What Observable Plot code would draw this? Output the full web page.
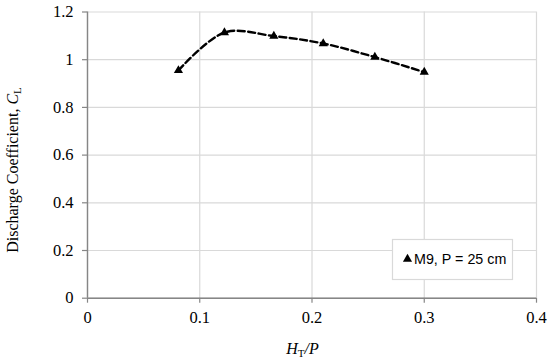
<!DOCTYPE html>
<html>
<head>
<meta charset="utf-8">
<script src="https://cdn.jsdelivr.net/npm/d3@7"></script>
<script src="https://cdn.jsdelivr.net/npm/@observablehq/plot@0.6"></script>
<style>
  html, body { margin: 0; padding: 0; background: white; }
</style>
</head>
<body>
<div id="chart"></div>
<script>
const htp = [0.081, 0.122, 0.166, 0.210, 0.256, 0.300];
const cl = [0.955, 1.114, 1.099, 1.068, 1.011, 0.948];
const xTicks = [0, 0.1, 0.2, 0.3, 0.4];
const xTickLabels = ["0", "0.1", "0.2", "0.3", "0.4"];
const yTicks = [0, 0.2, 0.4, 0.6, 0.8, 1.0, 1.2];
const yTickLabels = ["0", "0.2", "0.4", "0.6", "0.8", "1", "1.2"];
const seriesName = "M9, P = 25 cm";

const data = htp.map((x, i) => ({x, y: cl[i]}));
const serif = "Liberation Serif";

const chart = Plot.plot({
  width: 550,
  height: 362,
  marginLeft: 87,
  marginRight: 14,
  marginTop: 11.5,
  marginBottom: 64.3,
  style: {fontFamily: serif, fontSize: "16px", color: "black", background: "white"},
  x: {domain: [0, 0.4]},
  y: {domain: [0, 1.2]},
  marks: [
    Plot.gridX(xTicks, {stroke: "#d9d9d9", strokeOpacity: 1, strokeWidth: 1.2}),
    Plot.gridY(yTicks, {stroke: "#d9d9d9", strokeOpacity: 1, strokeWidth: 1.2}),
    Plot.ruleX([0], {stroke: "#868686", strokeWidth: 1.4}),
    Plot.ruleY([0], {stroke: "#868686", strokeWidth: 1.4}),
    Plot.axisX(xTicks, {tickSize: 5, tickPadding: 8, stroke: "#868686", strokeWidth: 1.2, fontSize: 16.5, fontFamily: serif, label: null,
      tickFormat: (d) => xTickLabels[xTicks.indexOf(d)]}),
    Plot.axisY(yTicks, {tickSize: 5, tickPadding: 9, stroke: "#868686", strokeWidth: 1.2, fontSize: 16.5, fontFamily: serif, label: null,
      tickFormat: (d) => yTickLabels[yTicks.indexOf(d)]}),
    Plot.line(data, {x: "x", y: "y", curve: "catmull-rom", stroke: "black", strokeWidth: 2.4, strokeDasharray: "7,3.5"}),
    Plot.dot(data, {x: "x", y: "y", symbol: "triangle", fill: "black", stroke: "none", r: 3.4})
  ]
});

document.getElementById("chart").appendChild(chart);

const svg = d3.select(chart);

// Y axis label
const yl = svg.append("text")
  .attr("transform", "translate(18,170) rotate(-90)")
  .attr("text-anchor", "middle")
  .attr("font-family", serif)
  .attr("font-size", 16)
  .attr("fill", "black");
yl.append("tspan").text("Discharge Coefficient, ");
yl.append("tspan").attr("font-style", "italic").text("C");
yl.append("tspan").attr("font-size", 11).attr("dy", 3).text("L");

// X axis label
const xl = svg.append("text")
  .attr("x", 302.5)
  .attr("y", 353.5)
  .attr("text-anchor", "middle")
  .attr("font-family", serif)
  .attr("font-size", 16)
  .attr("fill", "black");
xl.append("tspan").attr("font-style", "italic").text("H");
xl.append("tspan").attr("font-size", 11).attr("dy", 3).text("T");
xl.append("tspan").attr("dy", -3).attr("font-style", "italic").text("/P");

// Legend
const lg = svg.append("g");
lg.append("rect")
  .attr("x", 392.5).attr("y", 239.5).attr("width", 120).attr("height", 40)
  .attr("fill", "white").attr("stroke", "#d9d9d9").attr("stroke-width", 1.2);
lg.append("path")
  .attr("transform", "translate(407.5,259)")
  .attr("d", d3.symbol(d3.symbolTriangle, Math.PI * 3.4 * 3.4)())
  .attr("fill", "black");
lg.append("text")
  .attr("x", 414).attr("y", 263.5)
  .attr("text-anchor", "start")
  .attr("font-family", "Liberation Sans")
  .attr("font-size", 14.3)
  .attr("fill", "black")
  .text(seriesName);
</script>
</body>
</html>
